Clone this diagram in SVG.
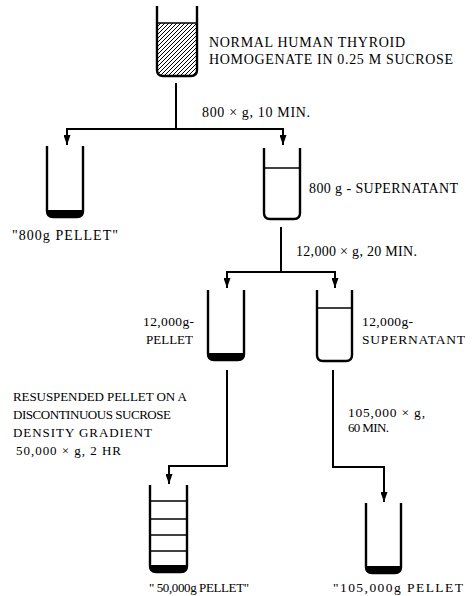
<svg xmlns="http://www.w3.org/2000/svg" width="472" height="596" viewBox="0 0 472 596">
<defs>
<pattern id="hatch" patternUnits="userSpaceOnUse" width="4" height="4">
<path d="M-1,1 l2,-2 M0,4 l4,-4 M3,5 l2,-2" stroke="#000" stroke-width="1"/>
</pattern>
<marker id="arr" viewBox="0 0 10 7" refX="10" refY="3.5" markerWidth="5" markerHeight="3.5" orient="auto" markerUnits="strokeWidth">
<path d="M0,0 L10,3.5 L0,7 Z" fill="#000"/>
</marker>
<style>
text{font-family:"Liberation Serif","DejaVu Serif",serif;font-size:13.5px;fill:#000}
.big{font-size:14px}
.sm{font-size:13px}
.tube{fill:none;stroke:#000;stroke-width:2.4;stroke-linejoin:round}
.line{fill:none;stroke:#000;stroke-width:1.4}
.pel{fill:#000}
.con{fill:none;stroke:#000;stroke-width:2}
</style>
</defs>
<rect width="472" height="596" fill="#fff"/>

<g id="homogenate">
<path d="M157 23 V70 Q157 76 163 76 H191 Q197 76 197 70 V23 Z" fill="url(#hatch)"/>
<line class="line" x1="157" y1="23" x2="197" y2="23"/>
<path class="tube" d="M157 6 V70 Q157 76 163 76 H191 Q197 76 197 70 V6"/>
<text class="big" x="209" y="47" textLength="196" lengthAdjust="spacing">NORMAL HUMAN THYROID</text>
<text class="big" x="209" y="64" textLength="244" lengthAdjust="spacing">HOMOGENATE IN  0.25 M SUCROSE</text>
</g>

<g id="pellet800">
<path class="pel" d="M47 210 V211 Q47 217 53 217 H77 Q83 217 83 211 V210 Z"/>
<path class="tube" d="M47 146 V211 Q47 217 53 217 H77 Q83 217 83 211 V146"/>
<text class="big" x="12" y="240" textLength="106" lengthAdjust="spacing">"800g PELLET"</text>
</g>

<g id="super800">
<line class="line" x1="264" y1="168" x2="300" y2="168"/>
<path class="tube" d="M264 148 V213 Q264 219 270 219 H294 Q300 219 300 213 V148"/>
<text class="big" x="309" y="193" textLength="149" lengthAdjust="spacing">800 g - SUPERNATANT</text>
</g>

<g id="pellet12000">
<path class="pel" d="M208 353 V354 Q208 360 214 360 H238 Q244 360 244 354 V353 Z"/>
<path class="tube" d="M208 290 V354 Q208 360 214 360 H238 Q244 360 244 354 V290"/>
<text x="143" y="326" textLength="51" lengthAdjust="spacing">12,000g-</text>
<text class="sm" x="146" y="344" textLength="47" lengthAdjust="spacing">PELLET</text>
</g>

<g id="super12000">
<line class="line" x1="317" y1="308" x2="352" y2="308"/>
<path class="tube" d="M317 290 V355 Q317 361 323 361 H346 Q352 361 352 355 V290"/>
<text x="362" y="326" textLength="51" lengthAdjust="spacing">12,000g-</text>
<text x="362" y="344" textLength="103" lengthAdjust="spacing">SUPERNATANT</text>
</g>

<g id="gradient">
<line class="line" x1="150" y1="501" x2="187" y2="501"/>
<line class="line" x1="150" y1="519" x2="187" y2="519"/>
<line class="line" x1="150" y1="535" x2="187" y2="535"/>
<line class="line" x1="150" y1="551" x2="187" y2="551"/>
<path class="pel" d="M150 565 V566 Q150 572 156 572 H181 Q187 572 187 566 V565 Z"/>
<path class="tube" d="M150 485 V566 Q150 572 156 572 H181 Q187 572 187 566 V485"/>
<text class="sm" x="149" y="592" textLength="100" lengthAdjust="spacing">" 50,000g PELLET"</text>
</g>

<g id="pellet105000">
<path class="pel" d="M366 566 V567 Q366 573 372 573 H395 Q401 573 401 567 V566 Z"/>
<path class="tube" d="M366 503 V567 Q366 573 372 573 H395 Q401 573 401 567 V503"/>
<text x="333" y="592" textLength="130" lengthAdjust="spacing">"105,000g PELLET</text>
</g>

<g id="labels">
<text class="big" x="202" y="117" textLength="108" lengthAdjust="spacing">800 × g, 10 MIN.</text>
<text class="big" x="296" y="256" textLength="121" lengthAdjust="spacing">12,000 × g, 20 MIN.</text>
<text class="sm" x="13" y="401" textLength="174" lengthAdjust="spacing">RESUSPENDED PELLET ON A</text>
<text class="sm" x="13" y="419" textLength="158" lengthAdjust="spacing">DISCONTINUOUS SUCROSE</text>
<text class="sm" x="13" y="437" textLength="139" lengthAdjust="spacing">DENSITY GRADIENT</text>
<text class="sm" x="16" y="455" textLength="105" lengthAdjust="spacing">50,000 × g, 2 HR</text>
<text x="348" y="417" textLength="77" lengthAdjust="spacing">105,000 × g,</text>
<text class="sm" x="348" y="432" textLength="41" lengthAdjust="spacing">60 MIN.</text>
</g>

<g id="connectors">
<line class="con" x1="176" y1="83" x2="176" y2="129"/>
<line class="con" x1="66" y1="129" x2="284" y2="129"/>
<line class="con" x1="67" y1="129" x2="67" y2="145" marker-end="url(#arr)"/>
<line class="con" x1="283" y1="129" x2="283" y2="145" marker-end="url(#arr)"/>
<line class="con" x1="281" y1="227" x2="281" y2="272"/>
<line class="con" x1="226" y1="272" x2="336" y2="272"/>
<line class="con" x1="227" y1="272" x2="227" y2="288" marker-end="url(#arr)"/>
<line class="con" x1="335" y1="272" x2="335" y2="288" marker-end="url(#arr)"/>
<polyline class="con" points="227,370 227,466 169,466 169,484" marker-end="url(#arr)"/>
<polyline class="con" points="333,370 333,467 384,467 384,502" marker-end="url(#arr)"/>
</g>
</svg>
